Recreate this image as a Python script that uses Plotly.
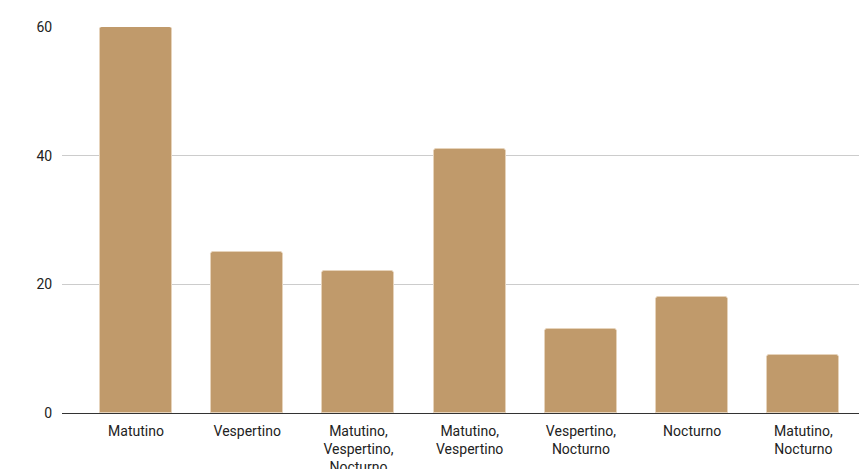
import plotly.graph_objects as go

categories = [
    "Matutino",
    "Vespertino",
    "Matutino,<br>Vespertino,<br>Nocturno",
    "Matutino,<br>Vespertino",
    "Vespertino,<br>Nocturno",
    "Nocturno",
    "Matutino,<br>Nocturno",
]
values = [60, 25, 22, 41, 13, 18, 9]
y_ticks = [0, 20, 40, 60]

fig = go.Figure(
    go.Bar(
        x=list(range(len(categories))),
        y=values,
        width=0.647,
        marker=dict(color="#c09a6b", line=dict(color="#e6d3bb", width=1), cornerradius=3),
        hoverinfo="skip",
    )
)

fig.update_layout(
    width=859,
    height=469,
    margin=dict(l=62, r=0, t=27, b=56),
    paper_bgcolor="white",
    plot_bgcolor="white",
    showlegend=False,
    font=dict(family="Roboto", size=14, color="#222222"),
    bargap=0,
)
fig.update_xaxes(
    range=[-0.665, 6.5],
    tickmode="array",
    tickvals=list(range(len(categories))),
    ticktext=categories,
    tickfont=dict(size=14),
    automargin=False,
    showgrid=False,
    showline=True,
    linecolor="#333333",
    linewidth=1,
    ticks="outside",
    ticklen=5,
    tickcolor="rgba(0,0,0,0)",
    zeroline=False,
    fixedrange=True,
)
fig.update_yaxes(
    range=[0, 60],
    tickmode="array",
    tickvals=y_ticks,
    tickfont=dict(size=14),
    automargin=False,
    showgrid=True,
    gridcolor="#cccccc",
    gridwidth=1,
    zeroline=False,
    ticks="outside",
    ticklen=6,
    tickcolor="rgba(0,0,0,0)",
    fixedrange=True,
)

fig.write_html("out.html")
